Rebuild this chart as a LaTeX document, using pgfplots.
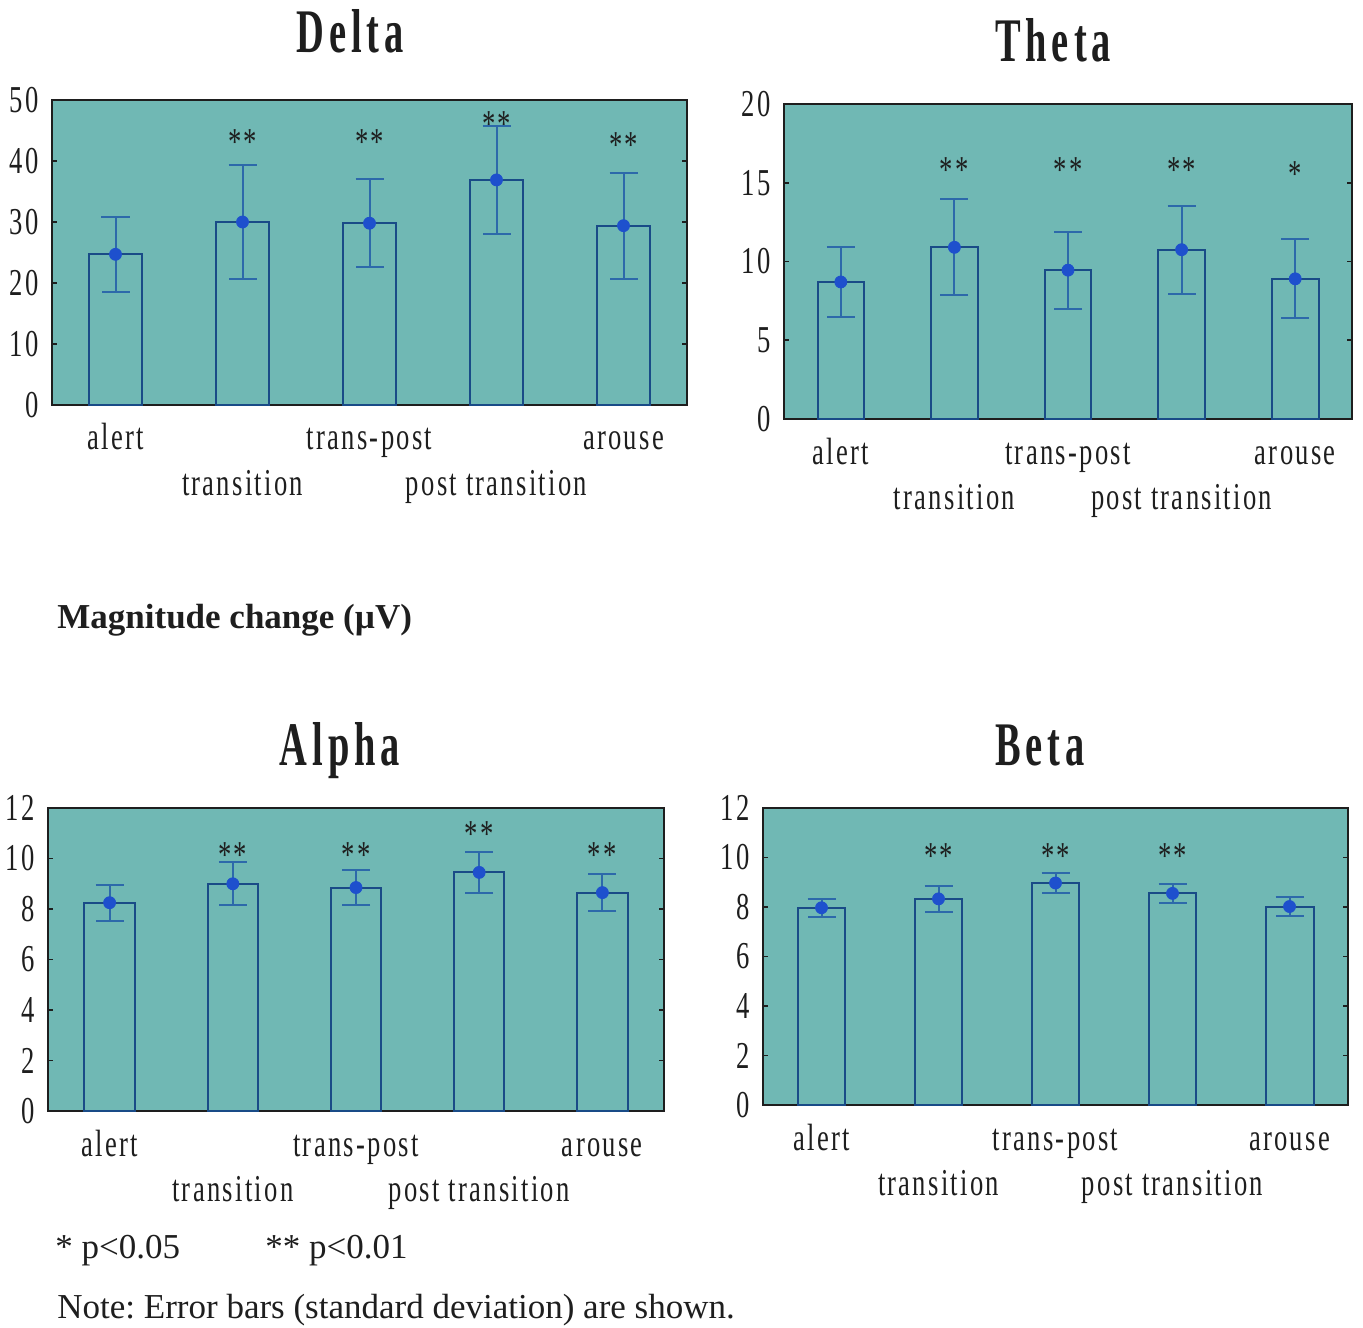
\documentclass[border=0pt]{standalone}
\usepackage{fontspec}
\setmainfont{Liberation Serif}
\newfontfamily\condfont[FakeStretch=0.7,LetterSpace=6]{Liberation Serif}
\newfontfamily\titlefont[FakeStretch=0.62,LetterSpace=8]{Liberation Serif}
\usepackage{pgfplots}
\usepackage{pgfplotstable}
\pgfplotsset{compat=1.18}
\frenchspacing

\definecolor{bgteal}{RGB}{112,184,180}
\definecolor{barblue}{RGB}{25,75,135}
\definecolor{errblue}{RGB}{45,105,170}
\definecolor{dotblue}{RGB}{30,80,205}
\definecolor{ink}{RGB}{30,30,30}

% mean and standard deviation per state
\pgfplotstableread{
x m sd
0 24.7 6.2
1 30.0 9.35
2 29.8 7.2
3 36.9 8.8
4 29.4 8.7
}\deltadata
\pgfplotstableread{
x m sd
0 8.7 2.2
1 10.9 3.05
2 9.45 2.45
3 10.75 2.8
4 8.9 2.5
}\thetadata
\pgfplotstableread{
x m sd
0 8.25 0.72
1 9.0 0.85
2 8.85 0.70
3 9.45 0.80
4 8.65 0.73
}\alphadata
\pgfplotstableread{
x m sd
0 7.97 0.36
1 8.33 0.53
2 8.97 0.42
3 8.55 0.40
4 8.02 0.40
}\betadata

\newcommand{\lblfont}{\condfont\fontsize{19}{19}\selectfont}

\pgfplotsset{
  panel/.style={
    scale only axis,
    axis background/.style={fill=bgteal},
    axis line style={ink, line width=1pt},
    xmin=-0.5, xmax=4.5, ymin=0,
    xtick={0,2,4}, xticklabels={alert,trans-post,arouse},
    extra x ticks={1,3}, extra x tick labels={transition,post transition},
    xtick style={draw=none},
    extra x tick style={xtick style={draw=none}, xticklabel style={yshift=-22.5pt}},
    xticklabel style={font=\lblfont, text=ink, anchor=base, inner sep=0pt, yshift=-22.5pt},
    yticklabel style={font=\lblfont, text=ink, anchor=east, inner sep=0pt, xshift=-6.5pt},
    /pgf/number format/assume math mode=true,
    ytick pos=both, tick align=inside, major tick length=2.5pt,
    ytick style={ink, line width=0.8pt},
    clip=false,
  },
  bars/.style={ybar, bar width=0.41, draw=barblue, fill=none, line width=1pt},
  means/.style={only marks, mark=*, mark size=3pt,
    mark options={draw=dotblue, fill=dotblue},
    error bars/.cd, y dir=both, y explicit,
    error bar style={errblue, line width=1pt},
    error mark options={rotate=90, errblue, line width=1pt, mark size=7pt}},
  stars/.style={draw=none, mark=none, nodes near coords, point meta=explicit symbolic,
    nodes near coords style={font=\lblfont, text=ink, anchor=base, inner sep=0pt, yshift=-10pt}},
}

\begin{document}
\begin{tikzpicture}
\useasboundingbox (0,0) rectangle (681.5pt,-663.5pt);

% Delta
\begin{axis}[panel, at={(26pt,-50pt)}, anchor=north west,
  width=317.5pt, height=152.5pt, ymax=50, ytick={0,10,...,50}]
  \addplot[bars] table[x=x, y=m] {\deltadata};
  \addplot[means] table[x=x, y=m, y error=sd] {\deltadata};
  \addplot[stars] coordinates {(1,44.3) [**] (2,44.3) [**] (3,47.3) [**] (4,43.9) [**]};
\end{axis}

% Theta
\begin{axis}[panel, at={(392pt,-52pt)}, anchor=north west,
  width=284pt, height=157.5pt, ymax=20, ytick={0,5,...,20}]
  \addplot[bars] table[x=x, y=m] {\thetadata};
  \addplot[means] table[x=x, y=m, y error=sd] {\thetadata};
  \addplot[stars] coordinates {(1,16.3) [**] (2,16.3) [**] (3,16.3) [**] (4,16.0) [*]};
\end{axis}

% Alpha
\begin{axis}[panel, at={(24pt,-404pt)}, anchor=north west,
  width=308pt, height=151.5pt, ymax=12, ytick={0,2,...,12}]
  \addplot[bars] table[x=x, y=m] {\alphadata};
  \addplot[means] table[x=x, y=m, y error=sd] {\alphadata};
  \addplot[stars] coordinates {(1,10.45) [**] (2,10.45) [**] (3,11.25) [**] (4,10.45) [**]};
\end{axis}

% Beta
\begin{axis}[panel, at={(381.5pt,-404pt)}, anchor=north west,
  width=292.5pt, height=148.5pt, ymax=12, ytick={0,2,...,12}]
  \addplot[bars] table[x=x, y=m] {\betadata};
  \addplot[means] table[x=x, y=m, y error=sd] {\betadata};
  \addplot[stars] coordinates {(1,10.35) [**] (2,10.35) [**] (3,10.35) [**]};
\end{axis}

% panel titles
\begin{scope}[every node/.style={anchor=base, inner sep=0pt, text=ink,
    font=\titlefont\bfseries\fontsize{31}{31}\selectfont}]
  \node at (175pt,-26.5pt) {Delta};
  \node at (526.5pt,-31pt) {Theta};
  \node at (170pt,-382.5pt) {Alpha};
  \node at (520pt,-382.5pt) {Beta};
\end{scope}

% notes
\begin{scope}[every node/.style={anchor=base west, inner sep=0pt, text=ink,
    font=\fontsize{17.5}{17.5}\selectfont}]
  \node at (28.5pt,-314pt) {\bfseries Magnitude change (µV)};
  \node at (27.5pt,-629pt) {* p<0.05};
  \node at (132.5pt,-629pt) {** p<0.01};
  \node at (28.5pt,-659pt) {Note: Error bars (standard deviation) are shown.};
\end{scope}
\end{tikzpicture}
\end{document}
